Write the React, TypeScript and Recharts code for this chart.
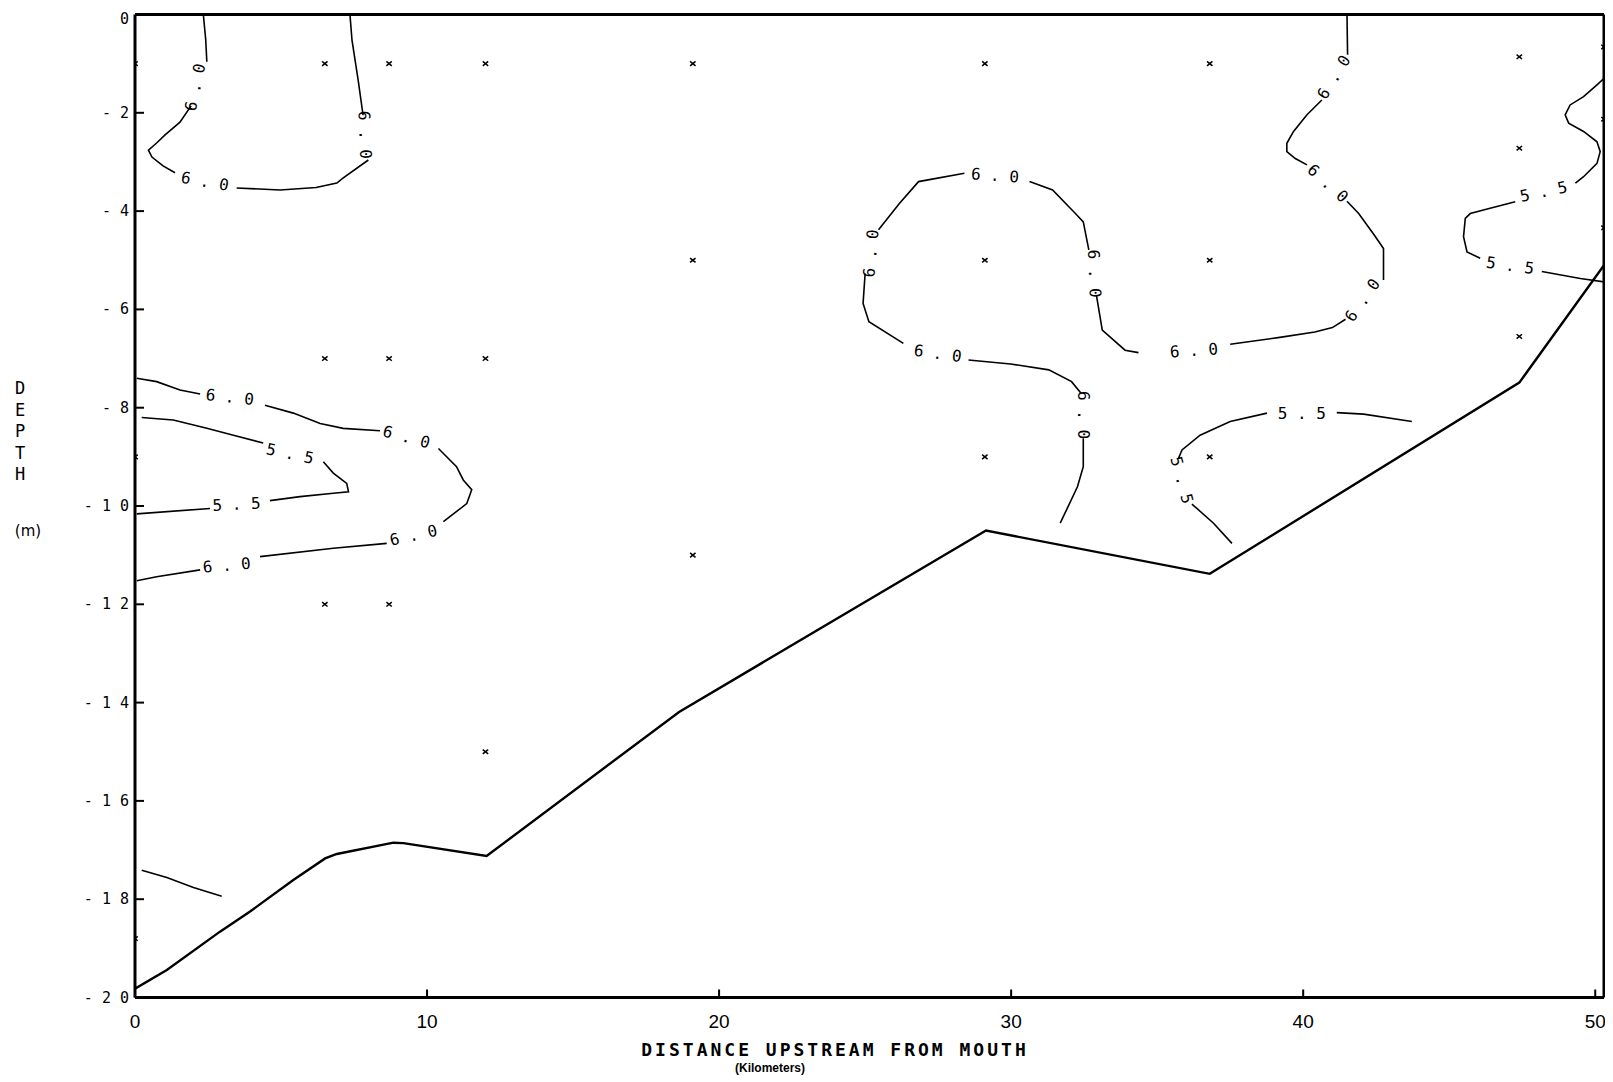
import React from 'react';
import { ComposedChart, Line, Scatter, XAxis, YAxis, ReferenceLine } from 'recharts';

// axis ticks
const xTicks = [0, 10, 20, 30, 40, 50];
const yTicks = [0, -2, -4, -6, -8, -10, -12, -14, -16, -18, -20];

// river bed (km upstream, depth m)
const bedProfile = [
    { x: 0, y: -19.82 }, { x: 1.09, y: -19.44 }, { x: 2.91, y: -18.66 }, { x: 3.94, y: -18.25 },
    { x: 5.42, y: -17.61 }, { x: 6.51, y: -17.17 }, { x: 6.91, y: -17.08 }, { x: 8.85, y: -16.85 },
    { x: 9.19, y: -16.86 }, { x: 12.04, y: -17.12 }, { x: 18.63, y: -14.19 }, { x: 29.14, y: -10.5 },
    { x: 36.8, y: -11.38 }, { x: 47.4, y: -7.49 }, { x: 50.3, y: -5.1 },
];

// sampling stations
const samplePoints = [
    { x: 0, y: -1 }, { x: 0, y: -9 }, { x: 0, y: -18.8 },
    { x: 6.5, y: -1 }, { x: 6.5, y: -7 }, { x: 6.5, y: -12 },
    { x: 8.7, y: -1 }, { x: 8.7, y: -7 }, { x: 8.7, y: -12 },
    { x: 12, y: -1 }, { x: 12, y: -7 }, { x: 12, y: -15 },
    { x: 19.1, y: -1 }, { x: 19.1, y: -5 }, { x: 19.1, y: -11 },
    { x: 29.1, y: -1 }, { x: 29.1, y: -5 }, { x: 29.1, y: -9 },
    { x: 36.8, y: -1 }, { x: 36.8, y: -5 }, { x: 36.8, y: -9 },
    { x: 47.4, y: -0.86 }, { x: 47.4, y: -2.72 }, { x: 47.4, y: -6.55 },
    { x: 50.3, y: -0.66 }, { x: 50.3, y: -2.13 }, { x: 50.3, y: -4.34 },
];

// 6.0 isoline, upper left pocket
const upperLeftA = [{ x: 2.34, y: 0 }, { x: 2.42, y: -0.5 }, { x: 2.46, y: -0.96 }];
const upperLeftB = [
    { x: 1.92, y: -1.86 }, { x: 1.54, y: -2.19 }, { x: 1.03, y: -2.45 }, { x: 0.75, y: -2.61 },
    { x: 0.46, y: -2.76 }, { x: 0.58, y: -2.9 }, { x: 0.96, y: -3.08 }, { x: 1.37, y: -3.22 },
];
const upperLeftC = [
    { x: 3.48, y: -3.53 }, { x: 4.97, y: -3.57 }, { x: 6.2, y: -3.52 }, { x: 6.91, y: -3.43 },
    { x: 7.12, y: -3.33 }, { x: 7.99, y: -2.96 },
];
const upperLeftD = [{ x: 7.81, y: -2.05 }, { x: 7.64, y: -1.33 }, { x: 7.43, y: -0.52 }, { x: 7.36, y: 0 }];

// 6.0 isoline, mid left tongue
const midLeftA = [{ x: 0.06, y: -7.4 }, { x: 0.74, y: -7.47 }, { x: 1.54, y: -7.64 }, { x: 2.23, y: -7.72 }];
const midLeftB = [
    { x: 4.45, y: -7.95 }, { x: 5.42, y: -8.11 }, { x: 6.34, y: -8.32 }, { x: 7.13, y: -8.42 }, { x: 8.39, y: -8.47 },
];
const midLeftC = [
    { x: 10.39, y: -8.83 }, { x: 11.01, y: -9.2 }, { x: 11.24, y: -9.47 }, { x: 11.53, y: -9.67 },
    { x: 11.36, y: -9.95 }, { x: 10.56, y: -10.32 },
];
const midLeftD = [{ x: 8.62, y: -10.76 }, { x: 6.79, y: -10.86 }, { x: 4.28, y: -11.03 }];
const midLeftE = [{ x: 2.23, y: -11.3 }, { x: 0.74, y: -11.44 }, { x: 0.06, y: -11.52 }];

// 5.5 isoline, mid left
const lowLeftA = [
    { x: 0.23, y: -8.2 }, { x: 1.31, y: -8.25 }, { x: 2.46, y: -8.42 }, { x: 3.37, y: -8.56 }, { x: 4.39, y: -8.72 },
];
const lowLeftB = [
    { x: 6.45, y: -9.1 }, { x: 6.79, y: -9.33 }, { x: 7.25, y: -9.54 }, { x: 7.31, y: -9.71 },
    { x: 6.79, y: -9.74 }, { x: 5.65, y: -9.81 }, { x: 4.62, y: -9.89 },
];
const lowLeftC = [{ x: 2.57, y: -10.05 }, { x: 0.06, y: -10.16 }];

// fragment near the bottom left
const bottomLeft = [{ x: 0.23, y: -17.41 }, { x: 1.09, y: -17.56 }, { x: 2.0, y: -17.76 }, { x: 2.97, y: -17.94 }];

// 6.0 isoline, long one in the middle / right
const middleA = [{ x: 31.68, y: -10.35 }, { x: 32.27, y: -9.61 }, { x: 32.47, y: -9.2 }, { x: 32.47, y: -8.62 }];
const middleB = [
    { x: 32.4, y: -7.71 }, { x: 32.07, y: -7.47 }, { x: 31.29, y: -7.23 }, { x: 29.98, y: -7.11 }, { x: 28.54, y: -7.03 },
];
const middleC = [{ x: 26.31, y: -6.69 }, { x: 25.13, y: -6.25 }, { x: 24.93, y: -5.88 }, { x: 25.0, y: -5.27 }];
const middleD = [{ x: 25.46, y: -4.38 }, { x: 26.18, y: -3.84 }, { x: 26.83, y: -3.4 }, { x: 28.4, y: -3.23 }];
const middleE = [
    { x: 30.63, y: -3.4 }, { x: 31.42, y: -3.57 }, { x: 32.2, y: -4.05 }, { x: 32.47, y: -4.22 }, { x: 32.66, y: -4.79 },
];
const middleF = [{ x: 32.92, y: -5.71 }, { x: 33.12, y: -6.42 }, { x: 33.9, y: -6.83 }, { x: 34.36, y: -6.88 }];
const middleG = [
    { x: 37.5, y: -6.71 }, { x: 39.2, y: -6.57 }, { x: 40.4, y: -6.46 }, { x: 41.0, y: -6.37 }, { x: 41.45, y: -6.2 },
];
const middleH = [
    { x: 42.75, y: -5.4 }, { x: 42.75, y: -4.76 }, { x: 42.45, y: -4.5 }, { x: 41.9, y: -4.05 }, { x: 41.5, y: -3.8 },
];
const middleI = [
    { x: 40.13, y: -3.06 }, { x: 39.73, y: -2.93 }, { x: 39.44, y: -2.79 }, { x: 39.44, y: -2.62 },
    { x: 39.67, y: -2.38 }, { x: 40.13, y: -2.04 }, { x: 40.64, y: -1.74 },
];
const middleJ = [{ x: 41.52, y: -0.82 }, { x: 41.5, y: 0 }];

// 5.5 isoline, right edge
const rightEdgeA = [
    { x: 50.3, y: -1.3 }, { x: 50.06, y: -1.43 }, { x: 49.6, y: -1.67 }, { x: 49.14, y: -1.84 },
    { x: 48.97, y: -2.04 }, { x: 49.09, y: -2.21 }, { x: 49.6, y: -2.38 }, { x: 50.06, y: -2.59 },
    { x: 50.17, y: -2.79 }, { x: 50.06, y: -3.03 }, { x: 49.6, y: -3.3 }, { x: 49.32, y: -3.43 },
];
const rightEdgeB = [
    { x: 47.26, y: -3.81 }, { x: 46.4, y: -3.94 }, { x: 45.72, y: -4.05 }, { x: 45.55, y: -4.15 },
    { x: 45.49, y: -4.52 }, { x: 45.61, y: -4.83 }, { x: 46.06, y: -4.96 },
];
const rightEdgeC = [{ x: 48.17, y: -5.23 }, { x: 49.49, y: -5.37 }, { x: 50.3, y: -5.44 }];

// 5.5 isoline, lower right
const lowRightA = [{ x: 37.56, y: -10.76 }, { x: 36.93, y: -10.35 }, { x: 36.19, y: -9.96 }];
const lowRightB = [
    { x: 35.73, y: -9.03 }, { x: 35.85, y: -8.86 }, { x: 36.47, y: -8.56 }, { x: 37.5, y: -8.28 }, { x: 38.76, y: -8.11 },
];
const lowRightC = [{ x: 41.15, y: -8.1 }, { x: 42.07, y: -8.13 }, { x: 43.72, y: -8.28 }];

const contourSegments = [
    upperLeftA, upperLeftB, upperLeftC, upperLeftD,
    midLeftA, midLeftB, midLeftC, midLeftD, midLeftE,
    lowLeftA, lowLeftB, lowLeftC, bottomLeft,
    middleA, middleB, middleC, middleD, middleE, middleF, middleG, middleH, middleI, middleJ,
    rightEdgeA, rightEdgeB, rightEdgeC,
    lowRightA, lowRightB, lowRightC,
];

// contour labels (position in km / m, text, orientation)
const contourLabels = [
    { x: 2.05, y: -1.48, text: '6.0', angle: -78 },
    { x: 2.4, y: -3.39, text: '6.0', angle: 10 },
    { x: 7.88, y: -2.45, text: '6.0', angle: 88 },
    { x: 3.25, y: -7.78, text: '6.0', angle: 6 },
    { x: 9.3, y: -8.59, text: '6.0', angle: 15 },
    { x: 9.53, y: -10.59, text: '6.0', angle: -12 },
    { x: 3.14, y: -11.2, text: '6.0', angle: -5 },
    { x: 5.31, y: -8.93, text: '5.5', angle: 12 },
    { x: 3.48, y: -9.96, text: '5.5', angle: -3 },
    { x: 29.45, y: -3.27, text: '6.0', angle: 4 },
    { x: 25.19, y: -4.86, text: '6.0', angle: -85 },
    { x: 27.49, y: -6.89, text: '6.0', angle: 8 },
    { x: 32.47, y: -8.15, text: '6.0', angle: 90 },
    { x: 32.86, y: -5.27, text: '6.0', angle: 88 },
    { x: 36.26, y: -6.83, text: '6.0', angle: -4 },
    { x: 42.02, y: -5.81, text: '6.0', angle: -55 },
    { x: 40.85, y: -3.43, text: '6.0', angle: 42 },
    { x: 41.04, y: -1.27, text: '6.0', angle: -58 },
    { x: 48.23, y: -3.6, text: '5.5', angle: -12 },
    { x: 47.09, y: -5.1, text: '5.5', angle: 8 },
    { x: 35.85, y: -9.47, text: '5.5', angle: 75 },
    { x: 39.95, y: -8.11, text: '5.5', angle: 0 },
];

const MONO = '"DejaVu Sans Mono", monospace';

const spaced = (s: string) => s.split('').join(' ');

const BottomTick = (props: any) => {
    const { x, y, payload } = props;
    return (
        <g>
            <line x1={x} x2={x} y1={y} y2={y - 8} stroke="#000" strokeWidth={2} />
            <text x={x} y={y + 30} textAnchor="middle" fontFamily="Liberation Sans, Arial, sans-serif" fontSize={19} fill="#000">
                {payload.value}
            </text>
        </g>
    );
};

const LeftTick = (props: any) => {
    const { x, y, payload } = props;
    const v = payload.value;
    const label = v === 0 ? '0' : '- ' + spaced(String(Math.abs(v)));
    return (
        <g>
            <line x1={x} x2={x + 9} y1={y} y2={y} stroke="#000" strokeWidth={2} />
            <text x={x - 6} y={v === 0 ? y + 9 : y + 5} textAnchor="end" fontFamily={MONO} fontSize={15} fill="#000">
                {label}
            </text>
        </g>
    );
};

const StationMark = (props: any) => {
    const { cx, cy } = props;
    if (cx == null || cy == null) return null;
    return (
        <g stroke="#000" strokeWidth={1.5}>
            <line x1={cx - 2.7} y1={cy - 2.2} x2={cx + 2.7} y2={cy + 2.2} />
            <line x1={cx - 2.7} y1={cy + 2.2} x2={cx + 2.7} y2={cy - 2.2} />
        </g>
    );
};

const ContourLabel = (props: any) => {
    const { cx, cy, payload } = props;
    if (cx == null || cy == null) return null;
    return (
        <text
            x={cx}
            y={cy}
            dy="0.36em"
            textAnchor="middle"
            fontFamily={MONO}
            fontSize={16}
            fill="#000"
            transform={`rotate(${payload.angle} ${cx} ${cy})`}
        >
            {spaced(payload.text)}
        </text>
    );
};

const DepthLabel = () => (
    <g fontFamily={MONO} fontSize={17} fill="#000" textAnchor="middle">
        {'DEPTH'.split('').map((ch, i) => (
            <text key={ch + i} x={12} y={386 + i * 21.5}>{ch}</text>
        ))}
        <text x={20} y={528} fontFamily="DejaVu Sans, sans-serif" fontSize={15}>(m)</text>
    </g>
);

const DistanceLabel = () => (
    <g fill="#000" textAnchor="middle">
        <text x={827} y={1048} fontFamily={MONO} fontSize={18} fontWeight="bold" letterSpacing={3}>
            DISTANCE UPSTREAM FROM MOUTH
        </text>
        <text x={762} y={1064} fontFamily="Liberation Sans, Arial, sans-serif" fontSize={12} fontWeight="bold">
            (Kilometers)
        </text>
    </g>
);

const App: React.FC = () => {
    return (
        <ComposedChart width={1600} height={1074} margin={{ top: 6.5, right: 4, bottom: 14.5, left: 0 }}>
            <XAxis
                xAxisId={0}
                type="number"
                dataKey="x"
                domain={[0, 50.3]}
                allowDataOverflow
                ticks={xTicks}
                interval={0}
                height={70}
                tickSize={0}
                tickMargin={0}
                tickLine={false}
                axisLine={{ stroke: '#000', strokeWidth: 3 }}
                tick={<BottomTick />}
                label={{ content: () => <DistanceLabel /> }}
            />
            <XAxis
                xAxisId="top"
                orientation="top"
                type="number"
                dataKey="x"
                domain={[0, 50.3]}
                allowDataOverflow
                ticks={xTicks.slice(1)}
                interval={0}
                height={0}
                mirror
                tickSize={8}
                tick={false}
                tickLine={{ stroke: '#000', strokeWidth: 2 }}
                axisLine={{ stroke: '#000', strokeWidth: 3 }}
            />
            <YAxis
                yAxisId={0}
                type="number"
                dataKey="y"
                domain={[-20, 0]}
                allowDataOverflow
                ticks={yTicks}
                interval={0}
                width={127}
                tickSize={0}
                tickMargin={0}
                tickLine={false}
                axisLine={{ stroke: '#000', strokeWidth: 3 }}
                tick={<LeftTick />}
                label={{ content: () => <DepthLabel /> }}
            />
            <YAxis
                yAxisId="right"
                orientation="right"
                type="number"
                dataKey="y"
                domain={[-20, 0]}
                allowDataOverflow
                ticks={yTicks.slice(1, -1)}
                interval={0}
                width={0}
                mirror
                tickSize={8}
                tick={false}
                tickLine={{ stroke: '#000', strokeWidth: 2 }}
                axisLine={{ stroke: '#000', strokeWidth: 3 }}
            />
            {/* frame: top and right edges */}
            <ReferenceLine y={0} stroke="#000" strokeWidth={3} />
            <ReferenceLine x={50.3} stroke="#000" strokeWidth={3} />
            <Line
                data={bedProfile}
                dataKey="y"
                type="linear"
                stroke="#000"
                strokeWidth={2.4}
                dot={false}
                activeDot={false}
                isAnimationActive={false}
                legendType="none"
            />
            {contourSegments.map((seg, i) => (
                <Line
                    key={`seg-${i}`}
                    data={seg}
                    dataKey="y"
                    type="linear"
                    stroke="#000"
                    strokeWidth={1.6}
                    dot={false}
                    activeDot={false}
                    isAnimationActive={false}
                    legendType="none"
                />
            ))}
            <Scatter data={samplePoints} dataKey="y" shape={<StationMark />} isAnimationActive={false} legendType="none" />
            <Scatter data={contourLabels} dataKey="y" shape={<ContourLabel />} isAnimationActive={false} legendType="none" />
            {/* attaches the frame axes so their inner ticks are drawn */}
            <Scatter
                xAxisId="top"
                yAxisId="right"
                data={samplePoints.slice(0, 1)}
                dataKey="y"
                shape={() => null}
                isAnimationActive={false}
                legendType="none"
            />
        </ComposedChart>
    );
};

export default App;
